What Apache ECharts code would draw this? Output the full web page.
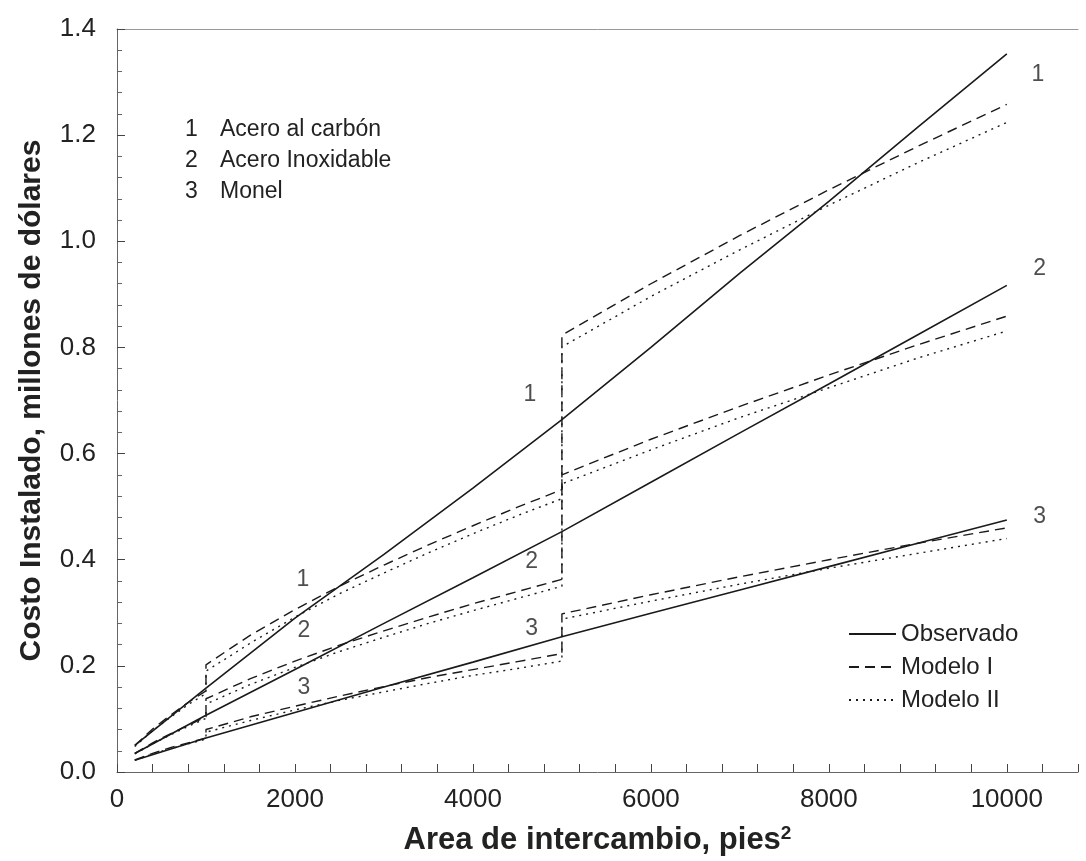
<!DOCTYPE html>
<html>
<head>
<meta charset="utf-8">
<script src="https://cdn.jsdelivr.net/npm/echarts@6/dist/echarts.min.js"></script>
<style>
  html, body { margin: 0; padding: 0; background: #fff; }
  #main { width: 1086px; height: 861px; }
</style>
</head>
<body>
<div id="main"></div>
<script>
// observed curves (solid)
var obsX = [200, 1000, 2000, 3000, 4000, 5000, 6000, 7000, 8000, 9000, 10000];
var obs1 = [0.05, 0.158, 0.29, 0.41, 0.535, 0.664, 0.80, 0.94, 1.075, 1.215, 1.353];
var obs2 = [0.035, 0.107, 0.193, 0.28, 0.366, 0.453, 0.546, 0.639, 0.731, 0.824, 0.917];
var obs3 = [0.022, 0.064, 0.112, 0.16, 0.207, 0.255, 0.299, 0.343, 0.387, 0.431, 0.475];

// model curves, three pieces with steps at 1000 and 5000
var modelX = [200, 400, 600, 800, 1000,
              1000, 1500, 2000, 2500, 3000, 3500, 4000, 4500, 5000,
              5000, 6000, 7000, 8000, 9000, 10000];
var mod1_1 = [0.05, 0.081, 0.107, 0.131, 0.153,
              0.202, 0.258, 0.306, 0.350, 0.390, 0.428, 0.464, 0.499, 0.532,
              0.823, 0.920, 1.011, 1.097, 1.179, 1.258];
var mod2_1 = [0.048, 0.078, 0.103, 0.127, 0.148,
              0.19, 0.243, 0.292, 0.336, 0.375, 0.413, 0.449, 0.483, 0.515,
              0.801, 0.896, 0.984, 1.068, 1.148, 1.224];
var mod1_2 = [0.035, 0.055, 0.072, 0.088, 0.104,
              0.138, 0.176, 0.209, 0.239, 0.266, 0.292, 0.317, 0.340, 0.363,
              0.56, 0.627, 0.689, 0.748, 0.805, 0.859];
var mod2_2 = [0.034, 0.053, 0.070, 0.086, 0.101,
              0.128, 0.165, 0.197, 0.227, 0.254, 0.280, 0.304, 0.327, 0.35,
              0.543, 0.607, 0.668, 0.724, 0.780, 0.831];
var mod1_3 = [0.023, 0.035, 0.046, 0.055, 0.064,
              0.08, 0.104, 0.124, 0.143, 0.161, 0.178, 0.193, 0.208, 0.223,
              0.298, 0.334, 0.368, 0.400, 0.431, 0.46];
var mod2_3 = [0.022, 0.034, 0.044, 0.053, 0.062,
              0.075, 0.097, 0.117, 0.135, 0.151, 0.167, 0.182, 0.195, 0.209,
              0.288, 0.322, 0.354, 0.384, 0.412, 0.44];

// curve numbers written on the plot
var labelText = ['1', '2', '3', '1', '2', '3', '1', '2', '3'];
var labelX = [2090, 2100, 2100, 4640, 4660, 4660, 10350, 10370, 10370];
var labelY = [0.363, 0.266, 0.159, 0.711, 0.397, 0.271, 1.314, 0.949, 0.481];

var materials = ['1', '2', '3'];
var materialNames = ['Acero al carbón', 'Acero Inoxidable', 'Monel'];

var sans = '"Liberation Sans", Arial, Helvetica, sans-serif';

function pairs(xs, ys) {
    var out = [];
    for (var i = 0; i < xs.length; i++) out.push([xs[i], ys[i]]);
    return out;
}

function curve(name, xs, ys, type) {
    return {
        name: name,
        type: 'line',
        data: pairs(xs, ys),
        symbol: 'none',
        smooth: false,
        lineStyle: {
            color: '#1a1a1a',
            width: type === 'solid' ? 1.6 : 1.4,
            type: type === 'dashed' ? [10, 6] : (type === 'dotted' ? [2, 5] : 'solid')
        },
        itemStyle: { color: '#1a1a1a' },
        silent: true,
        z: 3
    };
}

var labelData = [];
for (var i = 0; i < labelText.length; i++) {
    labelData.push([labelX[i], labelY[i], labelText[i]]);
}

var legendText = [];
materials.forEach(function (m, k) {
    legendText.push({
        type: 'text', left: 185, top: 118 + k * 31,
        style: { text: m, font: '23px ' + sans, fill: '#222' }
    });
    legendText.push({
        type: 'text', left: 220, top: 118 + k * 31,
        style: { text: materialNames[k], font: '23px ' + sans, fill: '#222' }
    });
});

var dom = document.getElementById('main');
var myChart = echarts.init(dom);

var option = {
    animation: false,
    backgroundColor: '#fff',
    grid: { left: 117, top: 29, right: 8, bottom: 84, containLabel: false },
    legend: {
        orient: 'vertical',
        left: 843,
        top: 617,
        itemWidth: 47,
        itemHeight: 14,
        itemGap: 9,
        data: ['Observado', 'Modelo I', 'Modelo II'],
        itemStyle: { opacity: 0 },
        textStyle: { fontFamily: sans, fontSize: 24, color: '#222' }
    },
    xAxis: [{
        type: 'value',
        min: 0,
        max: 10800,
        interval: 400,
        name: 'Area de intercambio, pies{sup|2}',
        nameLocation: 'middle',
        nameGap: 52,
        nameTextStyle: {
            fontFamily: sans, fontWeight: 'bold', fontSize: 31, color: '#222',
            rich: { sup: { fontFamily: sans, fontWeight: 'bold', fontSize: 19, color: '#222', verticalAlign: 'top', padding: [0, 0, 14, 0] } }
        },
        axisLine: { lineStyle: { color: '#666', width: 1 } },
        axisTick: { inside: true, length: 8, lineStyle: { color: '#444' } },
        splitLine: { show: false },
        axisLabel: {
            margin: 15,
            fontFamily: sans, fontSize: 26, color: '#222',
            formatter: function (v) { return v % 2000 === 0 ? String(v) : ''; }
        }
    }, {
        type: 'value',
        position: 'top',
        min: 0,
        max: 10800,
        axisLine: { show: true, lineStyle: { color: '#999', width: 1 } },
        axisTick: { show: false },
        axisLabel: { show: false },
        splitLine: { show: false }
    }],
    yAxis: {
        type: 'value',
        min: 0,
        max: 1.4,
        interval: 0.2,
        name: 'Costo Instalado, millones de dólares',
        nameLocation: 'middle',
        nameRotate: 90,
        nameGap: 70,
        nameTextStyle: { fontFamily: sans, fontWeight: 'bold', fontSize: 30, color: '#222' },
        axisLine: { show: true, lineStyle: { color: '#666', width: 1 } },
        axisTick: { inside: true, length: 8, lineStyle: { color: '#444' } },
        minorTick: { show: true, splitNumber: 5, length: 5, lineStyle: { color: '#666' } },
        splitLine: { show: false },
        axisLabel: {
            margin: 21,
            fontFamily: sans, fontSize: 26, color: '#222',
            formatter: function (v) { return v.toFixed(1); }
        }
    },
    graphic: legendText,
    series: [
        curve('Observado', obsX, obs1, 'solid'),
        curve('Modelo I', modelX, mod1_1, 'dashed'),
        curve('Modelo II', modelX, mod2_1, 'dotted'),
        curve('Observado', obsX, obs2, 'solid'),
        curve('Modelo I', modelX, mod1_2, 'dashed'),
        curve('Modelo II', modelX, mod2_2, 'dotted'),
        curve('Observado', obsX, obs3, 'solid'),
        curve('Modelo I', modelX, mod1_3, 'dashed'),
        curve('Modelo II', modelX, mod2_3, 'dotted'),
        {
            name: 'etiquetas',
            type: 'scatter',
            data: labelData,
            symbolSize: 1,
            itemStyle: { color: 'rgba(0,0,0,0)' },
            silent: true,
            label: {
                show: true,
                position: 'inside',
                formatter: function (p) { return p.data[2]; },
                fontFamily: sans,
                fontSize: 23,
                color: '#222'
            },
            z: 5
        }
    ]
};

if (option && typeof option === "object") {
    myChart.setOption(option, true);
}
window.onresize = function () {
    myChart.resize();
};
</script>
</body>
</html>
